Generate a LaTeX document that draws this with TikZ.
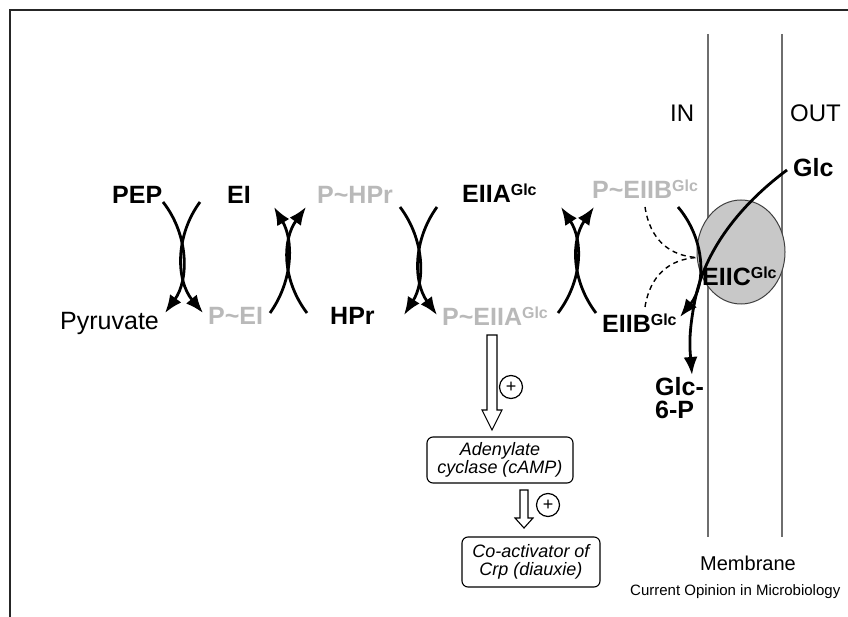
\documentclass[tikz,border=0pt]{standalone}
\usepackage{fontspec}
\setmainfont{Liberation Sans}
\usetikzlibrary{arrows.meta,shapes.geometric}
\definecolor{lgray}{RGB}{185,185,185}
\definecolor{efill}{RGB}{200,200,200}
\definecolor{memgray}{RGB}{110,110,110}
\newcommand\glsup{\raisebox{7.5pt}{\fontsize{16}{16}\selectfont Glc}}
\begin{document}
\begin{tikzpicture}[x=1pt,y=-1pt,
  lbl/.style={inner sep=0pt,anchor=base west,font=\fontsize{25}{28}\selectfont\bfseries},
  lblg/.style={lbl,text=lgray},
  plain/.style={inner sep=0pt,anchor=base west,font=\fontsize{25}{28}\selectfont},
  rx/.style={line width=2.8pt,-{Latex[length=18pt,width=14pt]}},
  dsh/.style={line width=1.4pt,dash pattern=on 5pt off 4pt},
  box/.style={draw,line width=1.1pt,rounded corners=6pt,inner sep=0pt,align=center,
    font=\fontsize{18}{18}\selectfont\itshape},
  hollow/.style={draw,line width=1.1pt,fill=white,line join=miter},
  plus/.style={draw,circle,line width=1.2pt,inner sep=0pt,minimum size=23pt,font=\fontsize{18}{18}\selectfont}
]
\useasboundingbox (0,0) rectangle (848,617);
% frame
\draw[line width=2pt,black!85] (848,10) -- (10,10) -- (10,617);
% membrane
\draw[line width=1.6pt,memgray] (708,34) -- (708,537);
\draw[line width=1.6pt,memgray] (782,34) -- (782,537);
\node[ellipse,draw=black!75,fill=efill,line width=1pt,minimum width=88pt,minimum height=104pt,inner sep=0pt] (eiic) at (741,252) {};

% labels
\node[lbl] (pep) at (112,204) {PEP};
\node[lbl] (ei) at (227,204) {EI};
\node[lblg] (phpr) at (317,204) {P\textasciitilde HPr};
\node[lbl] (eiia) at (462,203) {EIIA\glsup};
\node[lblg] (peiib) at (592,199) {P\textasciitilde EIIB\glsup};
\node[plain] (pyr) at (60,330) {Pyruvate};
\node[lblg] (pei) at (208,325) {P\textasciitilde EI};
\node[lbl] (hpr) at (330,325) {HPr};
\node[lblg] (peiia) at (442,326) {P\textasciitilde EIIA\glsup};
\node[lbl] (eiib) at (602,333) {EIIB\glsup};
\node[plain,font=\fontsize{24}{28}\selectfont] (in) at (670,122) {IN};
\node[plain,font=\fontsize{24}{28}\selectfont] (out) at (790,122) {OUT};
\node[lbl] (glc) at (793,177) {Glc};
\node[lbl] (eiiclbl) at (702,286) {EIIC\glsup};
\node[lbl] (g6p1) at (655,395) {Glc-};
\node[lbl] (g6p2) at (655,418) {6-P};
\node[plain,font=\fontsize{20}{24}\selectfont] (mem) at (700,570) {Membrane};
\node[plain,font=\fontsize{15}{18}\selectfont] (cop) at (630,595) {Current Opinion in Microbiology};

% end points of the reaction arrows
\coordinate (a1) at (163,202); \coordinate (a2) at (165,313);
\coordinate (b1) at (200,202); \coordinate (b2) at (203,313);
\coordinate (c1) at (270,313); \coordinate (c2) at (274,207);
\coordinate (d1) at (307,313); \coordinate (d2) at (306,207);
\coordinate (e1) at (400,207); \coordinate (e2) at (404,315);
\coordinate (f1) at (437,207); \coordinate (f2) at (437,315);
\coordinate (g1) at (558,313); \coordinate (g2) at (561,207);
\coordinate (h1) at (596,313); \coordinate (h2) at (594,207);
\coordinate (i1) at (678,207); \coordinate (i2) at (680,317);
\coordinate (j1) at (787,170); \coordinate (jm) at (695,300); \coordinate (j2) at (692,375);
\coordinate (k1) at (645,207); \coordinate (k2) at (645,307); \coordinate (km) at (697,257.5);

\draw[rx] (a1) .. controls (189,235) and (189,280) .. (a2);
\draw[rx] (b1) .. controls (175.5,235) and (175.5,280) .. (b2);
\draw[rx] (c1) .. controls (293.5,280) and (293.5,240) .. (c2);
\draw[rx] (d1) .. controls (282,280) and (282,240) .. (d2);
\draw[rx] (e1) .. controls (425,240) and (425,282) .. (e2);
\draw[rx] (f1) .. controls (413,240) and (413,282) .. (f2);
\draw[rx] (g1) .. controls (583,280) and (583,240) .. (g2);
\draw[rx] (h1) .. controls (571,280) and (571,240) .. (h2);
\draw[rx] (i1) .. controls (706,240) and (706,285) .. (i2);
\draw[rx] (j1) .. controls (740,205) and (705,250) .. (jm) .. controls (688,335) and (690,350) .. (j2);
\draw[dsh] (k1) .. controls (650,240) and (670,256) .. (km);
\draw[dsh] (k2) .. controls (650,275) and (670,259) .. (km);

% regulation
\node[box,minimum width=146pt,minimum height=46pt] (ac) at (500,460) {Adenylate\\cyclase (cAMP)};
\node[box,minimum width=138pt,minimum height=50pt] (crp) at (531,562) {Co-activator of\\Crp (diauxie)};
\draw[hollow] (487,335) -- (497,335) -- (497,410) -- (502,410) -- (492,430) -- (482,410) -- (487,410) -- cycle;
\draw[hollow] (520,490) -- (528,490) -- (528,518) -- (533,518) -- (524,528) -- (515,518) -- (520,518) -- cycle;
\node[plus] (p1) at (511,387) {+};
\node[plus] (p2) at (548,505) {+};
\end{tikzpicture}
\end{document}
